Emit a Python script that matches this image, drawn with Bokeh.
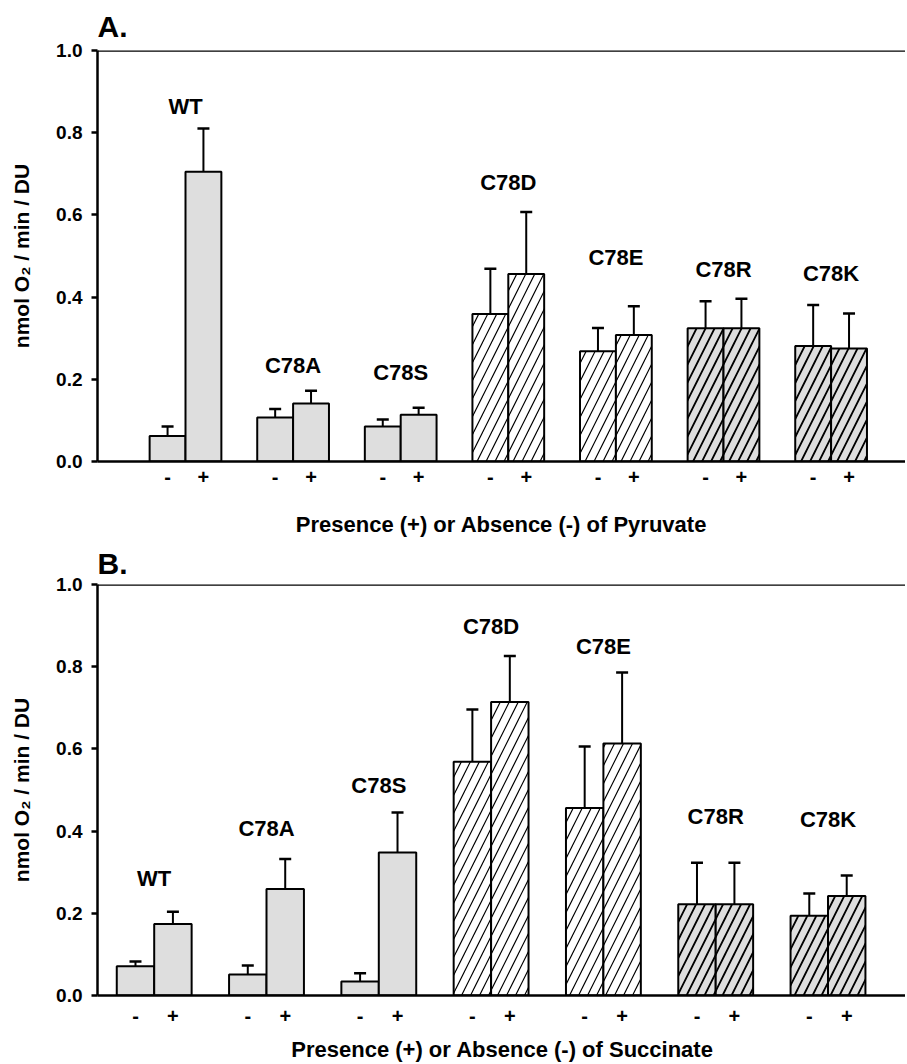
from bokeh.plotting import figure
from bokeh.layouts import column
from bokeh.models import (ColumnDataSource, Range1d, FixedTicker, NumeralTickFormatter,
                          Whisker, TeeHead, Span, Title)
from bokeh.core.properties import value
from bokeh.embed import file_html
from bokeh.resources import INLINE

# ---------------- data ----------------
genotypes = ["WT", "C78A", "C78S", "C78D", "C78E", "C78R", "C78K"]

# Panel A: pyruvate
A_minus = [0.062, 0.107, 0.085, 0.359, 0.268, 0.324, 0.281]
A_minus_err = [0.023, 0.021, 0.017, 0.110, 0.057, 0.066, 0.100]
A_plus = [0.705, 0.141, 0.114, 0.456, 0.308, 0.324, 0.275]
A_plus_err = [0.105, 0.031, 0.017, 0.151, 0.070, 0.072, 0.085]
A_label_y = [0.863, 0.233, 0.217, 0.680, 0.496, 0.467, 0.457]

# Panel B: succinate
B_minus = [0.071, 0.051, 0.034, 0.569, 0.456, 0.222, 0.194]
B_minus_err = [0.012, 0.022, 0.020, 0.127, 0.150, 0.101, 0.054]
B_plus = [0.174, 0.259, 0.348, 0.714, 0.613, 0.222, 0.242]
B_plus_err = [0.030, 0.073, 0.097, 0.112, 0.173, 0.101, 0.050]
B_label_y = [0.285, 0.407, 0.512, 0.898, 0.849, 0.436, 0.429]

sign_labels = ["-", "+"]
y_ticks = [0.0, 0.2, 0.4, 0.6, 0.8, 1.0]

# ---------------- styles ----------------
GRAY = "#dedede"
style = {
    "WT": (GRAY, " ", 1.0),
    "C78A": (GRAY, " ", 1.0),
    "C78S": (GRAY, " ", 1.0),
    "C78D": ("white", "/", 1.2),
    "C78E": ("white", "/", 1.2),
    "C78R": (GRAY, "/", 1.8),
    "C78K": (GRAY, "/", 1.8),
}
FONT = "Liberation Sans"


def make_panel(title, minus, minus_err, plus, plus_err, label_y, xlabel,
               left_px, unit_px, first_center_px, frame_w, top_border,
               bottom_border, tick_standoff, label_standoff, title_standoff):
    x0 = 0.5 - (first_center_px - left_px) / unit_px
    x1 = x0 + frame_w / unit_px
    p = figure(frame_width=frame_w, frame_height=411,
               min_border_left=left_px, min_border_right=0,
               min_border_top=top_border, min_border_bottom=bottom_border,
               x_range=Range1d(x0, x1), y_range=Range1d(0, 1.0),
               output_backend="svg", toolbar_location=None, tools="")
    p.outline_line_color = None
    p.grid.visible = False
    p.background_fill_color = "white"

    xs, tops, uppers, fills, hatches, hw = [], [], [], [], [], []
    for i, g in enumerate(genotypes):
        f, h, w = style[g]
        for k, (v, e) in enumerate([(minus[i], minus_err[i]), (plus[i], plus_err[i])]):
            xs.append(3 * i + k)
            tops.append(v)
            uppers.append(v + e)
            fills.append(f)
            hatches.append(h)
            hw.append(w)
    src = ColumnDataSource(dict(x=xs, top=tops, upper=uppers, fill=fills,
                                hatch=hatches, hw=hw))
    p.vbar(x="x", top="top", bottom=0, width=1, source=src,
           fill_color="fill", line_color="black", line_width=2,
           hatch_pattern="hatch", hatch_color="black", hatch_weight="hw",
           hatch_scale=18)
    p.add_layout(Whisker(source=src, base="x", lower="top", upper="upper",
                         line_color="black", line_width=2,
                         upper_head=TeeHead(size=12, line_width=2.5, line_color="black"),
                         lower_head=None))

    gsrc = ColumnDataSource(dict(x=[3 * i + 0.5 for i in range(len(genotypes))],
                                 y=label_y, t=genotypes))
    p.text(x="x", y="y", text="t", source=gsrc, text_font=value(FONT),
           text_font_style="bold", text_font_size="22px", text_align="center",
           text_baseline="middle", text_color="black")

    p.add_layout(Span(location=1.0, dimension="width", line_color="black",
                      line_width=2.5))

    # x axis
    ticks = [3 * i + k for i in range(len(genotypes)) for k in range(2)]
    p.xaxis.ticker = FixedTicker(ticks=ticks)
    p.xaxis.major_label_overrides = {t: sign_labels[t % 3] for t in ticks}
    p.xaxis.major_tick_line_color = None
    p.xaxis.minor_tick_line_color = None
    p.xaxis.axis_line_width = 2.5
    p.xaxis.axis_line_color = "black"
    p.xaxis.major_label_text_font = FONT
    p.xaxis.major_label_text_font_style = "bold"
    p.xaxis.major_label_text_font_size = "20px"
    p.xaxis.major_label_text_color = "black"
    p.xaxis.major_label_standoff = tick_standoff
    p.xaxis.axis_label = xlabel
    p.xaxis.axis_label_text_font = FONT
    p.xaxis.axis_label_text_font_style = "bold"
    p.xaxis.axis_label_text_font_size = "22px"
    p.xaxis.axis_label_text_color = "black"
    p.xaxis.axis_label_standoff = label_standoff

    # y axis
    p.yaxis.ticker = FixedTicker(ticks=y_ticks)
    p.yaxis.formatter = NumeralTickFormatter(format="0.0")
    p.yaxis.minor_tick_line_color = None
    p.yaxis.major_tick_in = 0
    p.yaxis.major_tick_out = 6
    p.yaxis.major_tick_line_width = 2.5
    p.yaxis.major_tick_line_color = "black"
    p.yaxis.axis_line_width = 2.5
    p.yaxis.axis_line_color = "black"
    p.yaxis.major_label_text_font = FONT
    p.yaxis.major_label_text_font_style = "bold"
    p.yaxis.major_label_text_font_size = "19px"
    p.yaxis.major_label_text_color = "black"
    p.yaxis.major_label_standoff = 9
    p.yaxis.axis_label = "nmol O\u2082 / min / DU"
    p.yaxis.axis_label_text_font = FONT
    p.yaxis.axis_label_text_font_style = "bold"
    p.yaxis.axis_label_text_font_size = "21px"
    p.yaxis.axis_label_text_color = "black"
    p.yaxis.axis_label_standoff = 20

    p.title = Title(text=title, align="left", text_font=FONT, text_color="black",
                    text_font_style="bold", text_font_size="30px",
                    standoff=title_standoff)
    return p


pA = make_panel("A.", A_minus, A_minus_err, A_plus, A_plus_err, A_label_y,
                "Presence (+) or Absence (-) of Pyruvate",
                left_px=97, unit_px=107.6 / 3, first_center_px=185, frame_w=808,
                top_border=50, bottom_border=76, tick_standoff=2, label_standoff=25,
                title_standoff=15)
pB = make_panel("B.", B_minus, B_minus_err, B_plus, B_plus_err, B_label_y,
                "Presence (+) or Absence (-) of Succinate",
                left_px=95, unit_px=112.3 / 3, first_center_px=151.7, frame_w=810,
                top_border=45, bottom_border=70, tick_standoff=7, label_standoff=11,
                title_standoff=9)

layout = column(pA, pB, spacing=0)
open("out.html", "w").write(file_html(layout, INLINE))
